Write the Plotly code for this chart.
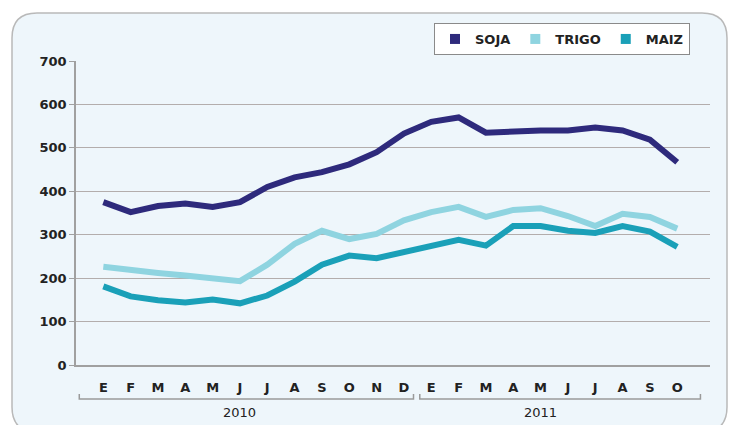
import plotly.graph_objects as go

months = ["E", "F", "M", "A", "M", "J", "J", "A", "S", "O", "N", "D",
          "E", "F", "M", "A", "M", "J", "J", "A", "S", "O"]
years = ["2010", "2011"]
soja = [375, 352, 366, 372, 364, 375, 410, 432, 444, 462, 490, 533,
        560, 570, 535, 538, 540, 540, 547, 540, 519, 467]
trigo = [226, 218, 212, 206, 201, 193, 231, 279, 309, 290, 302, 333,
         352, 364, 341, 357, 361, 343, 320, 348, 341, 314]
maiz = [181, 158, 149, 144, 151, 142, 160, 192, 231, 252, 246, 260,
        275, 288, 275, 320, 320, 309, 304, 320, 307, 272]
series = [("SOJA", soja, "#2e2a7c"), ("TRIGO", trigo, "#8fd4e0"), ("MAIZ", maiz, "#1aa0b8")]

x = list(range(len(months)))
fig = go.Figure()
for name, vals, col in series:
    fig.add_trace(go.Scatter(x=x, y=vals, mode="lines", name=name, showlegend=False,
                             line=dict(color=col, width=6), hoverinfo="y"))
for name, vals, col in series:
    fig.add_trace(go.Scatter(x=[None], y=[None], mode="markers", name=f"<b>{name}</b>",
                             marker=dict(symbol="square", size=10, color=col)))

W, H = 730, 425
L, R, T, B = 76, 20, 61, 60
pw, ph = W - L - R, H - T - B

def px(v):
    return (v - L) / pw

def py(v):
    return (H - B - v) / ph

# rounded frame
x0, x1, y0, y1 = px(12), px(727), py(432), py(13)
rx, ry = 25 / pw, 25 / ph
path = (f"M {x0+rx},{y1} L {x1-rx},{y1} Q {x1},{y1} {x1},{y1-ry} "
        f"L {x1},{y0+ry} Q {x1},{y0} {x1-rx},{y0} L {x0+rx},{y0} "
        f"Q {x0},{y0} {x0},{y0+ry} L {x0},{y1-ry} Q {x0},{y1} {x0+rx},{y1} Z")
shapes = [dict(type="path", xref="paper", yref="paper", path=path,
               fillcolor="#eef6fb", line=dict(color="#b9b9b9", width=1.5), layer="below")]

# year brackets
yb, yt = py(399), py(394)
for xa, xb in [(-0.88, 11.35), (11.58, 21.85)]:
    shapes.append(dict(type="path", xref="x", yref="paper",
                       path=f"M {xa},{yt} L {xa},{yb} L {xb},{yb} L {xb},{yt}",
                       line=dict(color="#9a9a9a", width=1.5)))

annotations = [
    dict(x=5.0, y=py(412), xref="x", yref="paper", text=years[0], showarrow=False,
         font=dict(family="DejaVu Sans", size=13, color="#222"), yanchor="middle"),
    dict(x=16.0, y=py(412), xref="x", yref="paper", text=years[1], showarrow=False,
         font=dict(family="DejaVu Sans", size=13, color="#222"), yanchor="middle"),
]

fig.update_layout(
    width=W, height=H,
    margin=dict(l=L, r=R, t=T, b=B, autoexpand=False),
    paper_bgcolor="white",
    plot_bgcolor="#cde9f2",
    shapes=shapes,
    annotations=annotations,
    showlegend=True,
    legend=dict(orientation="h", x=px(690), xanchor="right", y=py(23), yanchor="top",
                bgcolor="white", bordercolor="#8a8a8a", borderwidth=1,
                font=dict(family="DejaVu Sans", size=13, color="#222"),
                itemwidth=30, tracegroupgap=0),
    xaxis=dict(range=[-1, 22.2], tickvals=x, ticktext=[f"<b>{m}</b>" for m in months],
               showgrid=False, zeroline=False, showline=True, linecolor="#a0a0a0",
               linewidth=1.5, ticks="", ticklabelstandoff=10,
               tickfont=dict(family="DejaVu Sans", size=13, color="#222"), fixedrange=True),
    yaxis=dict(range=[0, 700], tickvals=[0, 100, 200, 300, 400, 500, 600, 700],
               ticktext=[f"<b>{v}</b>" for v in [0, 100, 200, 300, 400, 500, 600, 700]],
               showgrid=True, gridcolor="#b3adac", gridwidth=1,
               zeroline=False, showline=True, linecolor="#a0a0a0", linewidth=1.5,
               ticks="outside", ticklen=5, tickcolor="#a0a0a0",
               tickfont=dict(family="DejaVu Sans", size=13, color="#222"), fixedrange=True),
)
fig.write_html("out.html", config={"displayModeBar": False},
               post_script="document.body.style.margin='0';document.body.style.overflow='hidden';")
